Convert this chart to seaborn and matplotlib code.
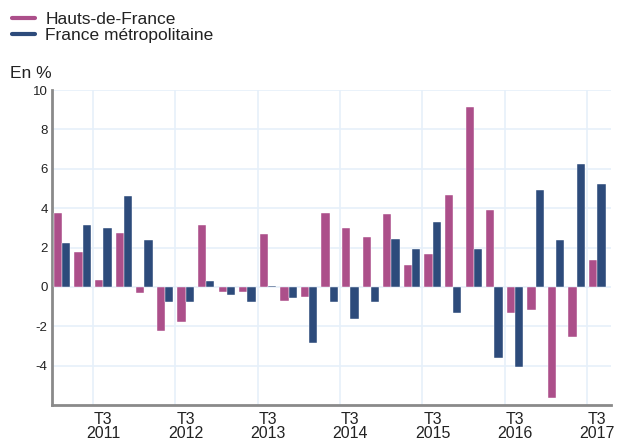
import numpy as np
import pandas as pd
import matplotlib
matplotlib.use("Agg")
import matplotlib.pyplot as plt
from matplotlib.lines import Line2D
import seaborn as sns

# Quarterly values, T1 2011 .. T3 2017 (in %)
quarters = [f"T{q} {y}" for y in range(2011, 2018) for q in range(1, 5)][:27]
hauts_de_france = [3.75, 1.76, 0.37, 2.75, -0.30, -2.25, -1.79, 3.13, -0.24, -0.24,
                   2.69, -0.71, -0.49, 3.75, 2.97, 2.53, 3.68, 1.13, 1.69, 4.68,
                   9.16, 3.90, -1.32, -1.15, -5.63, -2.55, 1.37]
france_metro = [2.23, 3.13, 2.99, 4.61, 2.36, -0.78, -0.78, 0.30, -0.41, -0.78,
                0.03, -0.56, -2.87, -0.78, -1.62, -0.78, 2.43, 1.91, 3.29, -1.32,
                1.91, -3.61, -4.09, 4.90, 2.36, 6.22, 5.22]
series_names = ["Hauts-de-France", "France métropolitaine"]
colors = ["#AC4F8A", "#2D4B7B"]

df = pd.DataFrame({
    "quarter": quarters * 2,
    "value": hauts_de_france + france_metro,
    "zone": [series_names[0]] * len(quarters) + [series_names[1]] * len(quarters),
})

sns.set_style("white")
plt.rcParams["font.family"] = ["Liberation Sans", "DejaVu Sans"]

fig = plt.figure(figsize=(6.21, 4.43), dpi=100)
ax = fig.add_axes([0.0835, 0.0858, 0.9005, 0.711])

sns.barplot(data=df, x="quarter", y="value", hue="zone", palette=colors,
            saturation=1, width=0.8, edgecolor="white", linewidth=0.3, ax=ax,
            legend=False, zorder=3)

# grid: horizontal every 2, vertical at boundaries before each T3
ax.set_ylim(-6, 10)
ax.set_yticks(np.arange(-4, 11, 2))
ax.set_yticklabels([str(v) for v in range(-4, 11, 2)], fontsize=9.5, color="#222222")
for v in range(-4, 11, 2):
    ax.axhline(v, color="#e6f0fa", lw=1.2, zorder=0)
t3_idx = [i for i, q in enumerate(quarters) if q.startswith("T3")]
for i in t3_idx:
    ax.axvline(i - 0.5, color="#e6f0fa", lw=1.2, zorder=0)
ax.set_xticks(t3_idx)
ax.set_xticklabels([quarters[i].replace(" ", "\n") for i in t3_idx],
                   fontsize=11.5, color="#222222", linespacing=0.9)
ax.set_xlim(-0.5, 26.67)
ax.tick_params(axis="both", length=0, pad=3)
ax.tick_params(axis="x", pad=5)
ax.set_xlabel("")
ax.set_ylabel("")

for side in ["top", "right"]:
    ax.spines[side].set_visible(False)
for side in ["left", "bottom"]:
    ax.spines[side].set_color("#8a8a8a")
    ax.spines[side].set_linewidth(2)

fig.text(0.016, 0.835, "En %", fontsize=12.5, color="#222222", va="center")

handles = [Line2D([0], [0], color=c, lw=3) for c in colors]
fig.legend(handles, series_names, loc="upper left", bbox_to_anchor=(0.0, 1.0),
           frameon=False, fontsize=12.5, handlelength=1.3, handletextpad=0.6,
           labelspacing=0.05, borderaxespad=0.3, labelcolor="#222222")

fig.savefig("out.png", dpi=100)
